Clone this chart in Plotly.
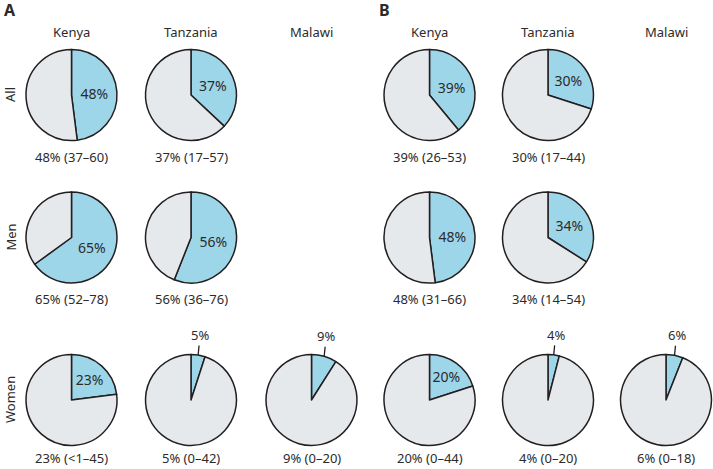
import math
import plotly.graph_objects as go

# ---- data ----
countries = ["Kenya", "Tanzania", "Malawi"]
groups = ["All", "Men", "Women"]
panels = ["A", "B"]

a_kenya = [48, 65, 23]
a_tanzania = [37, 56, 5]
a_malawi = [None, None, 9]
a_kenya_ci = ["37–60", "52–78", "<1–45"]
a_tanzania_ci = ["17–57", "36–76", "0–42"]
a_malawi_ci = [None, None, "0–20"]

b_kenya = [39, 48, 20]
b_tanzania = [30, 34, 4]
b_malawi = [None, None, 6]
b_kenya_ci = ["26–53", "31–66", "0–44"]
b_tanzania_ci = ["17–44", "14–54", "0–20"]
b_malawi_ci = [None, None, "0–18"]

values = {"A": [a_kenya, a_tanzania, a_malawi], "B": [b_kenya, b_tanzania, b_malawi]}
cis = {"A": [a_kenya_ci, a_tanzania_ci, a_malawi_ci], "B": [b_kenya_ci, b_tanzania_ci, b_malawi_ci]}

# ---- layout constants ----
W, H = 713, 469
col_x = {"A": [71.5, 191, 311.5], "B": [429.5, 548, 666]}
row_y = [95, 237.5, 400]
label_dy = [62, 61, 58]
R = 45.5
BLUE = "#9dd6e8"
GREY = "#e6e9ec"
LINE = "#231f20"
TXT = "#2b2b2b"
FONT = "Noto Sans"

def px(x):
    return x / W

def py(y):
    return 1 - y / H

fig = go.Figure()
annotations = []

for p in panels:
    for ci, country in enumerate(countries):
        cx = col_x[p][ci]
        annotations.append(dict(x=px(cx), y=py(32), text=country, showarrow=False,
                                font=dict(size=13, color=TXT), xanchor="center", yanchor="middle"))
        for ri, g in enumerate(groups):
            v = values[p][ci][ri]
            if v is None:
                continue
            cy = row_y[ri]
            small = v < 10
            fig.add_trace(go.Pie(
                values=[v, 100 - v],
                labels=["Yes", "No"],
                text=["" if small else f"{v}%", ""],
                textinfo="text",
                textposition="inside",
                insidetextorientation="horizontal",
                textfont=dict(size=14, color=TXT, family=FONT),
                marker=dict(colors=[BLUE, GREY], line=dict(color=LINE, width=1.5)),
                sort=False,
                direction="clockwise",
                rotation=0,
                domain=dict(x=[px(cx - R), px(cx + R)], y=[py(cy + R), py(cy - R)]),
                hoverinfo="skip",
                showlegend=False,
            ))
            annotations.append(dict(x=px(cx), y=py(cy + label_dy[ri]), text=f"{v}% ({cis[p][ci][ri]})",
                                    showarrow=False, font=dict(size=13, color=TXT),
                                    xanchor="center", yanchor="middle"))
            if small:
                a = math.radians(v / 100 * 360 / 2)
                tx = cx + R * math.sin(a)
                ty = cy - R * math.cos(a)
                annotations.append(dict(x=px(tx), y=py(ty), text=f"{v}%", showarrow=True,
                                        arrowhead=0, arrowwidth=1.3, arrowcolor=LINE,
                                        ax=2, ay=-20, standoff=0,
                                        font=dict(size=13, color=TXT)))

for ri, g in enumerate(groups):
    annotations.append(dict(x=px(10), y=py(row_y[ri]), text=g, showarrow=False, textangle=-90,
                            font=dict(size=13, color=TXT), xanchor="center", yanchor="middle"))

annotations.append(dict(x=px(2), y=py(10), text="<b>A</b>", showarrow=False,
                        font=dict(size=16, color=TXT), xanchor="left", yanchor="middle"))
annotations.append(dict(x=px(377), y=py(10), text="<b>B</b>", showarrow=False,
                        font=dict(size=16, color=TXT), xanchor="left", yanchor="middle"))

fig.update_layout(
    width=W, height=H,
    margin=dict(l=0, r=0, t=0, b=0),
    paper_bgcolor="white", plot_bgcolor="white",
    font=dict(family=FONT, color=TXT),
    annotations=annotations,
)

fig.write_html("out.html", config={"displayModeBar": False},
               post_script="document.body.style.margin='0px';document.body.style.overflow='hidden';")
